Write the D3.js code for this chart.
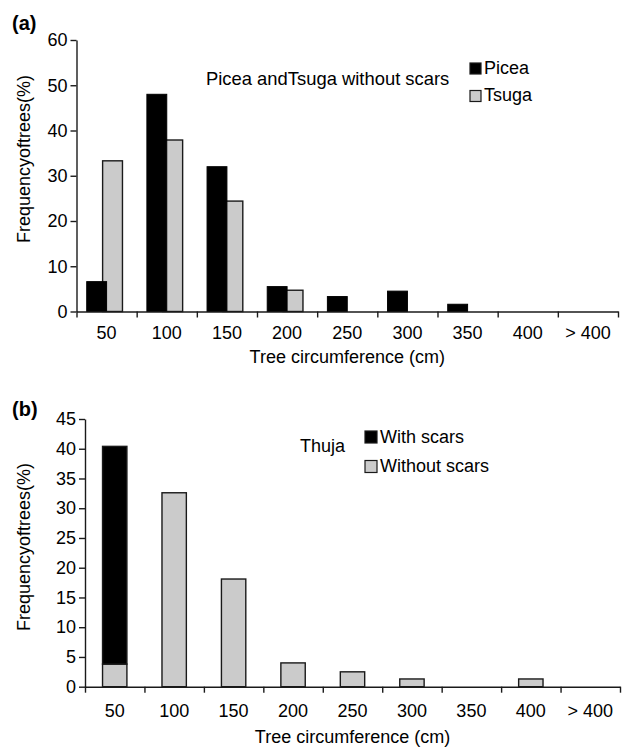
<!DOCTYPE html>
<html>
<head>
<meta charset="utf-8">
<script src="https://cdn.jsdelivr.net/npm/d3@7"></script>
<style>
body { margin: 0; background: #fff; }
svg text { font-family: "Liberation Sans", Arial, sans-serif; fill: #000; }
</style>
</head>
<body>
<div id="chart"></div>
<script>
var categories = ["50", "100", "150", "200", "250", "300", "350", "400", "> 400"];

// panel (a): Picea and Tsuga without scars
var picea = [6.6, 48, 32, 5.5, 3.3, 4.5, 1.6, 0, 0];
var tsuga = [33.3, 37.9, 24.4, 4.7, 0, 0, 0, 0, 0];
var ticksA = [0, 10, 20, 30, 40, 50, 60];

// panel (b): Thuja
var withScars = [36.6, 0, 0, 0, 0, 0, 0, 0, 0];
var withoutScars = [3.8, 32.6, 18.1, 4.0, 2.5, 1.3, 0, 1.3, 0];
var ticksB = [0, 5, 10, 15, 20, 25, 30, 35, 40, 45];

var GRAY = "#cbcbcb";
var EDGE = "#1a1a1a";
var FS = 18;

var Chart = {};

Chart.axes = function(svg, x, y, ticks, p) {
	var g = svg.append("g");
	// boundary ticks between categories
	var xb = d3.scaleLinear().domain([0, categories.length]).range(x.range());
	g.append("g")
		.attr("transform", "translate(0," + y(0) + ")")
		.call(d3.axisBottom(xb).tickValues(d3.range(categories.length + 1)).tickSize(6).tickSizeOuter(0).tickFormat(""));
	g.append("g")
		.attr("transform", "translate(0," + y(0) + ")")
		.call(d3.axisBottom(x).tickSize(0).tickPadding(p.xpad))
		.call(function(s) { s.select(".domain").remove(); });
	g.append("g")
		.attr("transform", "translate(" + x.range()[0] + ",0)")
		.call(d3.axisLeft(y).tickValues(ticks).tickSize(6).tickSizeOuter(0).tickPadding(3));
	g.selectAll("path.domain, .tick line").attr("stroke", EDGE).attr("stroke-width", 1.4);
	g.selectAll(".tick text").attr("font-size", FS).attr("font-family", "Liberation Sans, Arial, sans-serif");

	svg.append("text")
		.attr("x", (x.range()[0] + x.range()[1]) / 2)
		.attr("y", p.titleY)
		.attr("text-anchor", "middle")
		.attr("font-size", FS)
		.text("Tree circumference (cm)");
	svg.append("text")
		.attr("transform", "translate(30," + p.ylabY + ") rotate(-90)")
		.attr("text-anchor", "middle")
		.attr("font-size", FS)
		.text("Frequencyoftrees(%)");
	svg.append("text")
		.attr("x", 12)
		.attr("y", p.tagY)
		.attr("font-size", 20)
		.attr("font-weight", "bold")
		.text(p.tag);
};

Chart.legend = function(svg, items, lx, ly, size, gap) {
	items.forEach(function(it, i) {
		svg.append("rect")
			.attr("x", lx).attr("y", ly + i * gap)
			.attr("width", size).attr("height", size)
			.attr("fill", it.color).attr("stroke", EDGE).attr("stroke-width", 1.2);
		svg.append("text")
			.attr("x", lx + size + 3).attr("y", ly + i * gap + size - 0.5)
			.attr("font-size", FS)
			.text(it.name);
	});
};

var svg = d3.select("#chart").append("svg")
	.attr("width", 623)
	.attr("height", 748);

// ---------- panel (a)
var xA = d3.scaleBand().domain(categories).range([76.5, 618]).padding(0);
var yA = d3.scaleLinear().domain([0, 60]).range([311.5, 40]);
var bw = xA.bandwidth();
var wA = bw * 0.33, offA = bw * 0.17, ovA = bw * 0.066;

var gA = svg.append("g");
// Tsuga is drawn first, Picea overlaps it slightly
gA.selectAll("rect.tsuga")
	.data(tsuga)
	.enter().append("rect")
	.attr("class", "tsuga")
	.attr("x", function(d, i) { return xA(categories[i]) + offA + wA - ovA; })
	.attr("y", function(d) { return yA(d); })
	.attr("width", wA)
	.attr("height", function(d) { return yA(0) - yA(d); })
	.attr("fill", GRAY)
	.attr("stroke", EDGE)
	.attr("stroke-width", function(d) { return d > 0 ? 1.4 : 0; });
gA.selectAll("rect.picea")
	.data(picea)
	.enter().append("rect")
	.attr("class", "picea")
	.attr("x", function(d, i) { return xA(categories[i]) + offA; })
	.attr("y", function(d) { return yA(d); })
	.attr("width", wA)
	.attr("height", function(d) { return yA(0) - yA(d); })
	.attr("fill", "#000")
	.attr("stroke", "#000")
	.attr("stroke-width", function(d) { return d > 0 ? 1 : 0; });

Chart.axes(svg, xA, yA, ticksA, { xpad: 14.7, titleY: 362.5, ylabY: 159, tagY: 29.5, tag: "(a)" });
svg.append("text").attr("x", 206).attr("y", 85).attr("font-size", 18.4)
	.text("Picea andTsuga without scars");
Chart.legend(svg, [{ name: "Picea", color: "#000" }, { name: "Tsuga", color: GRAY }], 470, 63, 11, 27.5);

// ---------- panel (b)
var xB = d3.scaleBand().domain(categories).range([85, 620]).padding(0);
var yB = d3.scaleLinear().domain([0, 45]).range([686.7, 419]);
var wB = xB.bandwidth() * 0.41;

var stack = d3.stack().keys(["without", "with"])(categories.map(function(c, i) {
	return { without: withoutScars[i], "with": withScars[i] };
}));
var colorsB = { without: GRAY, "with": "#000" };

var gB = svg.append("g");
stack.forEach(function(layer) {
	gB.selectAll("rect.s_" + layer.key)
		.data(layer)
		.enter().append("rect")
		.attr("class", "s_" + layer.key)
		.attr("x", function(d, i) { return xB(categories[i]) + (xB.bandwidth() - wB) / 2; })
		.attr("y", function(d) { return yB(d[1]); })
		.attr("width", wB)
		.attr("height", function(d) { return yB(d[0]) - yB(d[1]); })
		.attr("fill", colorsB[layer.key])
		.attr("stroke", EDGE)
		.attr("stroke-width", function(d) { return d[1] - d[0] > 0 ? 1.4 : 0; });
});

Chart.axes(svg, xB, yB, ticksB, { xpad: 17.2, titleY: 743, ylabY: 547, tagY: 416, tag: "(b)" });
svg.append("text").attr("x", 300).attr("y", 452).attr("font-size", FS).text("Thuja");
Chart.legend(svg, [{ name: "With scars", color: "#000" }, { name: "Without scars", color: GRAY }], 365, 431, 12, 29.5);
</script>
</body>
</html>
